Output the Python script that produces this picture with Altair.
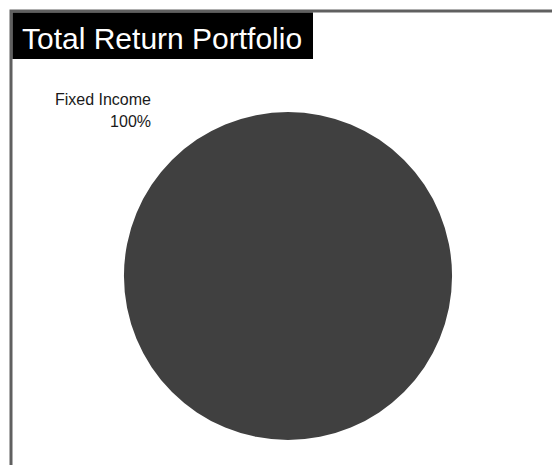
import altair as alt
import pandas as pd

TITLE = "Total Return Portfolio"
categories = ["Fixed Income"]
values = [100]

pie_df = pd.DataFrame({"category": categories, "value": values})
one = pd.DataFrame({"t": [TITLE]})

border = alt.Chart(one).mark_rect(fill=None, stroke="#606060", strokeWidth=3).encode(
    x=alt.value(3), x2=alt.value(570), y=alt.value(3), y2=alt.value(480)
)

title_box = alt.Chart(one).mark_rect(fill="black").encode(
    x=alt.value(4.5), x2=alt.value(305), y=alt.value(4.5), y2=alt.value(51)
)

title_text = alt.Chart(one).mark_text(
    align="left", baseline="alphabetic", fontSize=30, font="Liberation Sans", color="white"
).encode(x=alt.value(14), y=alt.value(41), text="t:N")

pie = alt.Chart(pie_df).mark_arc(outerRadius=164, color="#404040").encode(
    theta=alt.Theta("value:Q", stack=True),
    x=alt.value(280), y=alt.value(268),
)

label = alt.Chart(pie_df).transform_calculate(
    lab="datum.category + '\\n' + format(datum.value, '.0f') + '%'"
).mark_text(
    align="right", baseline="alphabetic", fontSize=16, font="Liberation Sans",
    color="#1a1a1a", lineBreak="\n", lineHeight=22
).encode(x=alt.value(143), y=alt.value(97), text="lab:N")

chart = alt.layer(border, title_box, title_text, pie, label).properties(
    width=544, height=457, padding=0, autosize=alt.AutoSizeParams(type="none"),
    background="white"
).configure_view(stroke=None)

chart.save("out.html", embed_options={"renderer": "svg", "actions": False})
